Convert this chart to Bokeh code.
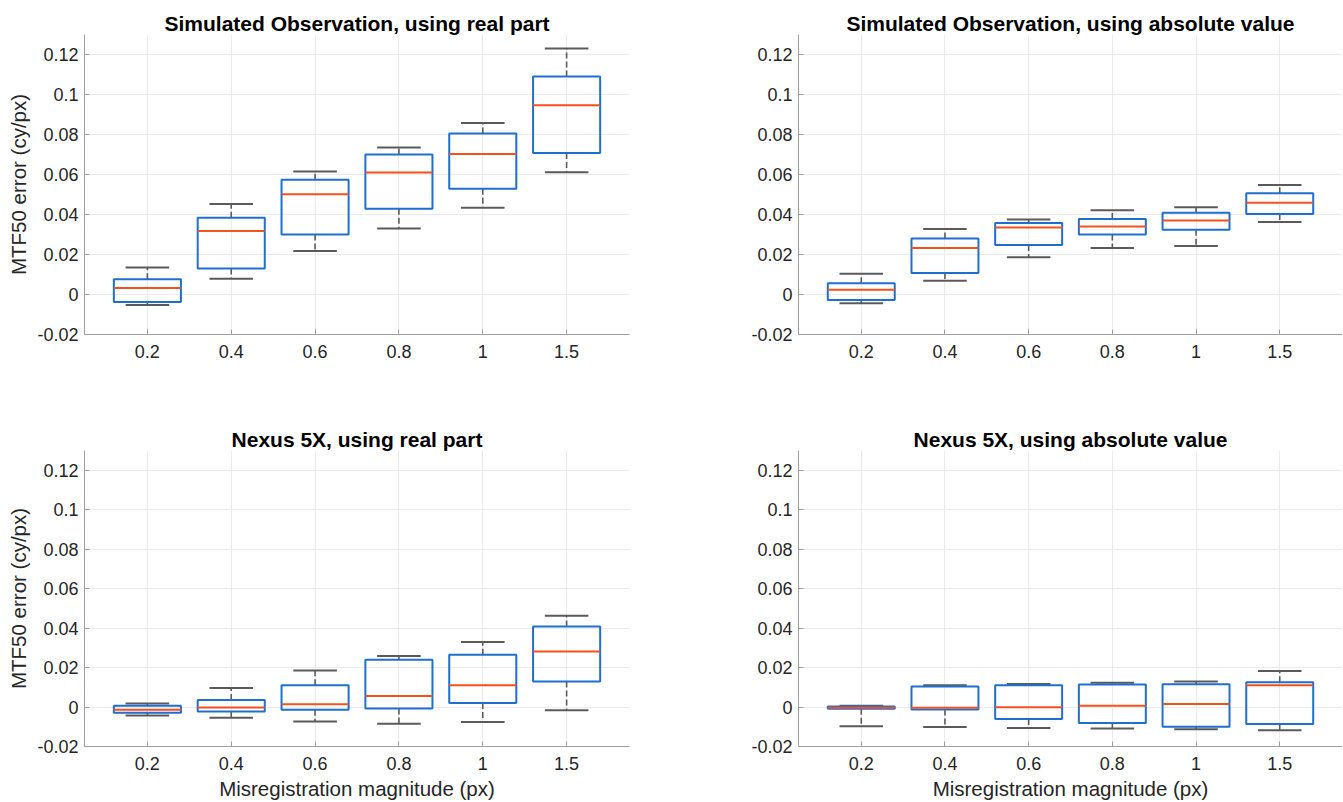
from bokeh.plotting import figure
from bokeh.layouts import row, column
from bokeh.models import Range1d, FixedTicker, CustomJSTickFormatter, ColumnDataSource
from bokeh.embed import file_html
from bokeh.resources import INLINE

# ---------------- data ----------------
cats = ["0.2", "0.4", "0.6", "0.8", "1", "1.5"]

sim_real_lo = [-0.0053, 0.0079, 0.0217, 0.0330, 0.0434, 0.0611]
sim_real_q1 = [-0.0038, 0.0130, 0.0300, 0.0429, 0.0529, 0.0708]
sim_real_med = [0.0033, 0.0317, 0.0501, 0.0610, 0.0702, 0.0946]
sim_real_q3 = [0.0076, 0.0384, 0.0574, 0.0700, 0.0805, 0.1090]
sim_real_hi = [0.0135, 0.0452, 0.0615, 0.0735, 0.0857, 0.1230]

sim_abs_lo = [-0.0044, 0.0069, 0.0186, 0.0232, 0.0243, 0.0362]
sim_abs_q1 = [-0.0028, 0.0108, 0.0247, 0.0300, 0.0324, 0.0402]
sim_abs_med = [0.0024, 0.0233, 0.0335, 0.0340, 0.0370, 0.0459]
sim_abs_q3 = [0.0056, 0.0280, 0.0357, 0.0377, 0.0409, 0.0506]
sim_abs_hi = [0.0104, 0.0327, 0.0375, 0.0421, 0.0436, 0.0548]

nex_real_lo = [-0.0043, -0.0054, -0.0073, -0.0085, -0.0076, -0.0016]
nex_real_q1 = [-0.0029, -0.0023, -0.0014, -0.0008, 0.0021, 0.0130]
nex_real_med = [-0.0014, -0.0002, 0.0014, 0.0056, 0.0110, 0.0282]
nex_real_q3 = [0.0006, 0.0036, 0.0110, 0.0240, 0.0265, 0.0408]
nex_real_hi = [0.0018, 0.0096, 0.0185, 0.0259, 0.0329, 0.0463]

nex_abs_lo = [-0.0098, -0.0101, -0.0106, -0.0109, -0.0113, -0.0118]
nex_abs_q1 = [-0.0009, -0.0013, -0.0061, -0.0081, -0.0100, -0.0086]
nex_abs_med = [-0.0004, -0.0004, -0.0001, 0.0006, 0.0016, 0.0110]
nex_abs_q3 = [0.0003, 0.0104, 0.0110, 0.0114, 0.0116, 0.0125]
nex_abs_hi = [0.0006, 0.0111, 0.0117, 0.0123, 0.0130, 0.0182]

y_ticks = [-0.02, 0.0, 0.02, 0.04, 0.06, 0.08, 0.1, 0.12]

titles = ["Simulated Observation, using real part",
          "Simulated Observation, using absolute value",
          "Nexus 5X, using real part",
          "Nexus 5X, using absolute value"]
y_label = "MTF50 error (cy/px)"
x_label = "Misregistration magnitude (px)"

# ---------------- style ----------------
FONT = "Liberation Sans"
TXT = "#262626"
AX = "#a0a0a0"
GRID = "#ebebeb"
BLUE = "#1f6fcf"
MED = "#f4511e"
WHISK = "#5a5a5a"
BOX_W = 0.8
CAP_W = 0.52


def make_panel(title, lo, q1, med, q3, hi, left_fig, top_fig):
    n = len(cats)
    xs = list(range(1, n + 1))
    if left_fig:
        width, mbl, mbr = 718, 84, 89
    else:
        width, mbl, mbr = 624, 80, 0
    if top_fig:
        height, mbt, mbb = 410, 34, 76
    else:
        height, mbt, mbb = 392, 40, 52
    p = figure(width=width, height=height, output_backend="svg", toolbar_location=None,
               x_range=Range1d(0.25, n + 0.75), y_range=Range1d(-0.02, 0.13),
               min_border=0, min_border_left=mbl, min_border_right=mbr,
               min_border_top=mbt, min_border_bottom=mbb)
    p.outline_line_color = None
    p.background_fill_color = "white"
    p.border_fill_color = "white"

    p.title.text = title
    p.title.align = "center"
    p.title.text_font = FONT
    p.title.text_font_size = "21px"
    p.title.text_font_style = "bold"
    p.title.text_color = "black"
    p.title.standoff = 0
    p.title.offset = 0

    src = ColumnDataSource(dict(
        x=xs,
        bl=[x - BOX_W / 2 for x in xs], br=[x + BOX_W / 2 for x in xs],
        cl=[x - CAP_W / 2 for x in xs], cr=[x + CAP_W / 2 for x in xs],
        lo=lo, q1=q1, med=med, q3=q3, hi=hi))

    # whiskers
    p.segment(x0="x", y0="q3", x1="x", y1="hi", source=src, line_color=WHISK,
              line_width=1.6, line_dash="6 3")
    p.segment(x0="x", y0="q1", x1="x", y1="lo", source=src, line_color=WHISK,
              line_width=1.6, line_dash="6 3")
    # caps
    p.segment(x0="cl", y0="hi", x1="cr", y1="hi", source=src, line_color=WHISK, line_width=2)
    p.segment(x0="cl", y0="lo", x1="cr", y1="lo", source=src, line_color=WHISK, line_width=2)
    # boxes
    p.quad(left="bl", right="br", bottom="q1", top="q3", source=src,
           fill_color=None, line_color=BLUE, line_width=2)
    # medians
    p.segment(x0="bl", y0="med", x1="br", y1="med", source=src, line_color=MED, line_width=2)

    # axes
    p.xaxis.ticker = FixedTicker(ticks=xs)
    p.xaxis.major_label_overrides = {x: c for x, c in zip(xs, cats)}
    p.yaxis.ticker = FixedTicker(ticks=y_ticks)
    p.yaxis.formatter = CustomJSTickFormatter(
        code="return (Math.round(tick*1000)/1000).toString();")
    for ax in (p.xaxis[0], p.yaxis[0]):
        ax.axis_line_color = AX
        ax.axis_line_width = 1
        ax.major_tick_line_color = AX
        ax.major_tick_in = 5
        ax.major_tick_out = 0
        ax.minor_tick_line_color = None
        ax.major_label_text_font = FONT
        ax.major_label_text_font_size = "18px"
        ax.major_label_text_color = TXT
        ax.axis_label_text_font = FONT
        ax.axis_label_text_font_size = "20.5px"
        ax.axis_label_text_font_style = "normal"
        ax.axis_label_text_color = TXT
    p.xaxis.major_label_standoff = 10
    p.yaxis.major_label_standoff = 6
    if left_fig:
        p.yaxis.axis_label = y_label
        p.yaxis.axis_label_standoff = 4
    if not top_fig:
        p.xaxis.axis_label = x_label
        p.xaxis.axis_label_standoff = 4

    p.xgrid.ticker = FixedTicker(ticks=xs)
    p.ygrid.ticker = FixedTicker(ticks=y_ticks)
    p.xgrid.grid_line_color = GRID
    p.ygrid.grid_line_color = GRID
    p.xgrid.grid_line_width = 1
    p.ygrid.grid_line_width = 1
    return p


p1 = make_panel(titles[0], sim_real_lo, sim_real_q1, sim_real_med, sim_real_q3, sim_real_hi, True, True)
p2 = make_panel(titles[1], sim_abs_lo, sim_abs_q1, sim_abs_med, sim_abs_q3, sim_abs_hi, False, True)
p3 = make_panel(titles[2], nex_real_lo, nex_real_q1, nex_real_med, nex_real_q3, nex_real_hi, True, False)
p4 = make_panel(titles[3], nex_abs_lo, nex_abs_q1, nex_abs_med, nex_abs_q3, nex_abs_hi, False, False)

layout = column(row(p1, p2), row(p3, p4))
open("out.html", "w").write(file_html(layout, INLINE))
